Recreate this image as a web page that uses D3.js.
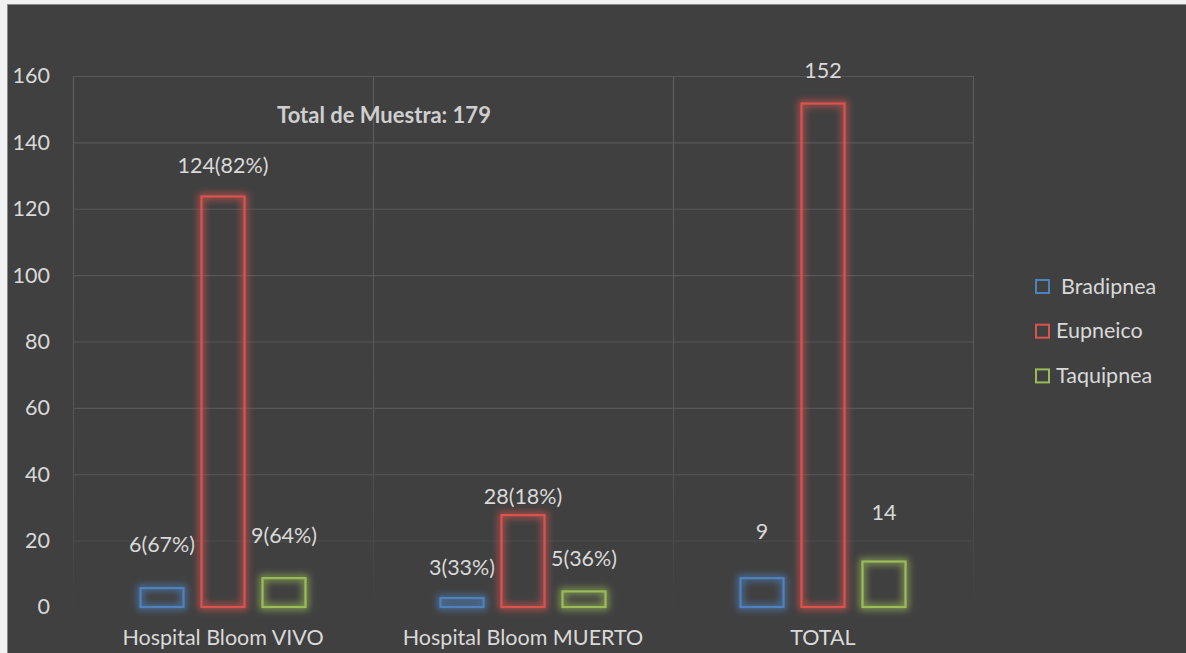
<!DOCTYPE html>
<html>
<head>
<meta charset="utf-8">
<script src="https://cdn.jsdelivr.net/npm/d3@7"></script>
<style>
  body { margin: 0; background: #f2f2f2; }
  svg text { font-family: Lato, "Open Sans", sans-serif; }
</style>
</head>
<body>
<div id="chart"></div>
<script>
// chart values
var categories = ["Hospital Bloom VIVO", "Hospital Bloom MUERTO", "TOTAL"];
var seriesNames = ["Bradipnea", "Eupneico", "Taquipnea"];
var bradipnea = [6, 3, 9];
var eupneico = [124, 28, 152];
var taquipnea = [9, 5, 14];
var bradipneaLabels = ["6(67%)", "3(33%)", "9"];
var eupneicoLabels = ["124(82%)", "28(18%)", "152"];
var taquipneaLabels = ["9(64%)", "5(36%)", "14"];
var yTicks = [0, 20, 40, 60, 80, 100, 120, 140, 160];
var title = "Total de Muestra: 179";

// label lift above bar top (px), labels were moved by hand in the original
var labelLift = [[43, 30, 46], [30, 18, 32], [42, 32, 48]];

var colors = ["#4f81bd", "#d9534f", "#9bbb59"];
var seriesValues = [bradipnea, eupneico, taquipnea];
var seriesLabels = [bradipneaLabels, eupneicoLabels, taquipneaLabels];

var fontSize = "21.5px";
var width = 1186, height = 653;
var svg = d3.select("#chart").append("svg")
  .attr("width", width).attr("height", height);

var defs = svg.append("defs");
var grad = defs.append("linearGradient")
  .attr("id", "gridFade")
  .attr("gradientUnits", "userSpaceOnUse")
  .attr("x1", 0).attr("y1", 76).attr("x2", 0).attr("y2", 607);
grad.append("stop").attr("offset", "0%").attr("stop-color", "#5c5c5c");
grad.append("stop").attr("offset", "70%").attr("stop-color", "#545454");
grad.append("stop").attr("offset", "100%").attr("stop-color", "#414141");

colors.forEach(function(c, i) {
  var f = defs.append("filter").attr("id", "glow" + i)
    .attr("x", "-50%").attr("y", "-50%").attr("width", "200%").attr("height", "200%");
  f.append("feMorphology").attr("in", "SourceGraphic").attr("operator", "dilate")
    .attr("radius", 1.5).attr("result", "fat");
  f.append("feGaussianBlur").attr("in", "fat").attr("stdDeviation", 3.5).attr("result", "blur");
  f.append("feComponentTransfer").attr("in", "blur").attr("result", "soft")
    .append("feFuncA").attr("type", "linear").attr("slope", 0.7);
  var m = f.append("feMerge");
  m.append("feMergeNode").attr("in", "soft");
  m.append("feMergeNode").attr("in", "SourceGraphic");
});

// chart area
svg.append("rect")
  .attr("x", 7.5).attr("y", 4.5)
  .attr("width", width).attr("height", height + 10)
  .attr("fill", "#404040")
  .attr("stroke", "#8c8c8c");

var x = d3.scaleBand().domain(categories).range([73, 973]);
var xInner = d3.scaleBand().domain(seriesNames)
  .range([0, x.bandwidth()])
  .paddingInner(0.262).paddingOuter(1.09);
var y = d3.scaleLinear().domain([0, 160]).range([607, 76]);

// gridlines
var grid = svg.append("g");
grid.selectAll("line.h")
  .data(yTicks.filter(function(d) { return d > 0; }))
  .enter().append("line")
  .attr("x1", 73).attr("x2", 973)
  .attr("y1", function(d) { return y(d) + 0.5; })
  .attr("y2", function(d) { return y(d) + 0.5; })
  .attr("stroke", function(d) { return d <= 20 ? "#4a4a4a" : "#575757"; })
  .attr("stroke-width", 1.2);

var vx = [73, 973].concat(categories.slice(1).map(function(c) { return x(c); }));
grid.selectAll("line.v")
  .data(vx)
  .enter().append("line")
  .attr("x1", function(d) { return d + 0.5; })
  .attr("x2", function(d) { return d + 0.5; })
  .attr("y1", 76).attr("y2", 607)
  .attr("stroke", "url(#gridFade)")
  .attr("stroke-width", 1.2);

// y axis
var yAxis = svg.append("g")
  .attr("transform", "translate(50,0)")
  .call(d3.axisLeft(y).tickValues(yTicks).tickSize(0).tickPadding(0));
yAxis.select(".domain").remove();
yAxis.selectAll("text")
  .attr("fill", "#d9d9d9")
  .style("font-size", fontSize);

// x axis
var xAxis = svg.append("g")
  .attr("transform", "translate(0,607)")
  .call(d3.axisBottom(x).tickSize(0).tickPadding(23));
xAxis.select(".domain").remove();
xAxis.selectAll("text")
  .attr("fill", "#d9d9d9")
  .style("font-size", fontSize);

// bars
seriesNames.forEach(function(name, si) {
  var g = svg.append("g").attr("filter", "url(#glow" + si + ")");
  g.selectAll("rect")
    .data(seriesValues[si])
    .enter().append("rect")
    .attr("x", function(d, i) { return x(categories[i]) + xInner(name) + 1; })
    .attr("y", function(d) { return y(d) + 1; })
    .attr("width", xInner.bandwidth() - 2)
    .attr("height", function(d) { return y(0) - y(d) - 1; })
    .attr("fill", "none")
    .attr("stroke", colors[si])
    .attr("stroke-width", 2.2);

  svg.append("g").selectAll("text")
    .data(seriesValues[si])
    .enter().append("text")
    .attr("x", function(d, i) { return x(categories[i]) + xInner(name) + xInner.bandwidth() / 2; })
    .attr("y", function(d, i) { return y(d) - labelLift[si][i]; })
    .attr("dy", "0.35em")
    .attr("text-anchor", "middle")
    .attr("fill", "#d9d9d9")
    .style("font-size", fontSize)
    .text(function(d, i) { return seriesLabels[si][i]; });
});

// title
svg.append("text")
  .attr("x", 384).attr("y", 115)
  .attr("dy", "0.35em")
  .attr("text-anchor", "middle")
  .attr("fill", "#cfcfcf")
  .style("font-size", "22px")
  .style("font-weight", "bold")
  .text(title);

// legend
var legend = svg.append("g").attr("transform", "translate(1035,286)");
var item = legend.selectAll("g")
  .data(seriesNames)
  .enter().append("g")
  .attr("transform", function(d, i) { return "translate(0," + (i * 44.7) + ")"; });
item.append("rect")
  .attr("x", 1).attr("y", -6).attr("width", 13).attr("height", 13)
  .attr("fill", "none")
  .attr("stroke", function(d, i) { return colors[i]; })
  .attr("stroke-width", 2);
item.append("text")
  .attr("x", function(d, i) { return i === 0 ? 26 : 21; })
  .attr("dy", "0.35em")
  .attr("fill", "#d9d9d9")
  .style("font-size", fontSize)
  .text(function(d) { return d; });
</script>
</body>
</html>
